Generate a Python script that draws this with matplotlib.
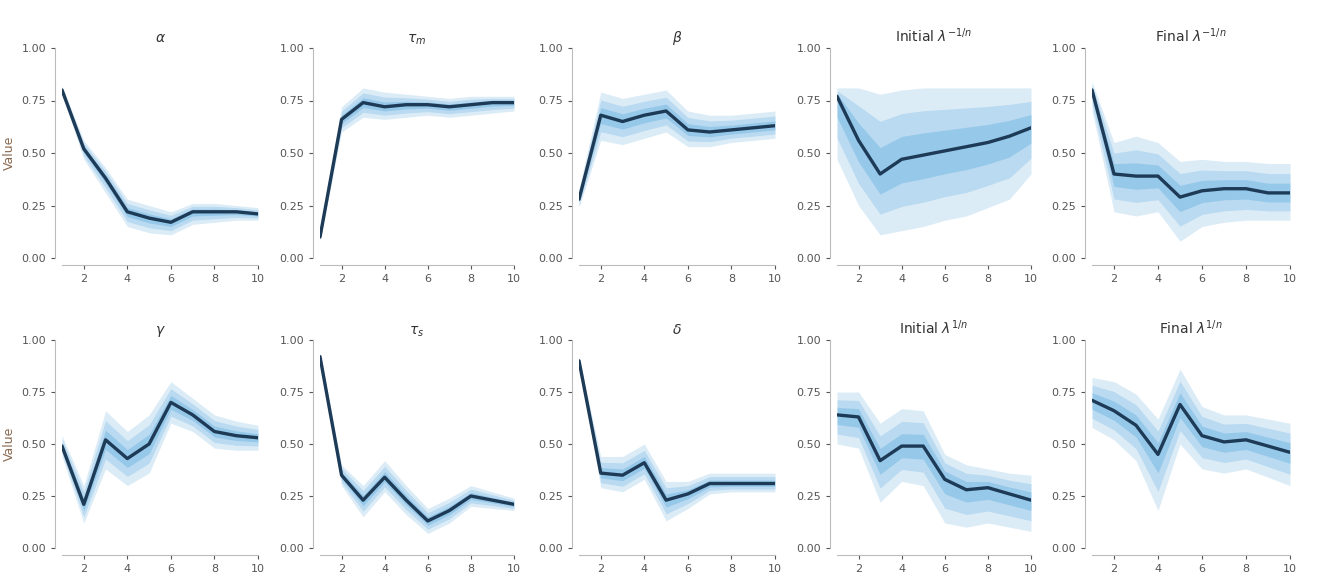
import numpy as np
import matplotlib
matplotlib.use("Agg")
import matplotlib.pyplot as plt
import seaborn as sns
from matplotlib.ticker import MaxNLocator

sns.set_style("ticks")
plt.rcParams['font.family'] = ['DejaVu Sans']

steps = [1, 2, 3, 4, 5, 6, 7, 8, 9, 10]
x_ticks = [2, 4, 6, 8, 10]

titles = ["$\\alpha$", "$\\tau_m$", "$\\beta$", "Initial $\\lambda^{-1/n}$", "Final $\\lambda^{-1/n}$",
          "$\\gamma$", "$\\tau_s$", "$\\delta$", "Initial $\\lambda^{1/n}$", "Final $\\lambda^{1/n}$"]
row_labels = ["Value", "Value"]

# median line per panel
alpha_med = [0.80, 0.52, 0.38, 0.22, 0.19, 0.17, 0.22, 0.22, 0.22, 0.21]
taum_med = [0.10, 0.66, 0.74, 0.72, 0.73, 0.73, 0.72, 0.73, 0.74, 0.74]
beta_med = [0.28, 0.68, 0.65, 0.68, 0.70, 0.61, 0.60, 0.61, 0.62, 0.63]
init_neg_med = [0.77, 0.56, 0.40, 0.47, 0.49, 0.51, 0.53, 0.55, 0.58, 0.62]
final_neg_med = [0.80, 0.40, 0.39, 0.39, 0.29, 0.32, 0.33, 0.33, 0.31, 0.31]
gamma_med = [0.49, 0.21, 0.52, 0.43, 0.50, 0.70, 0.64, 0.56, 0.54, 0.53]
taus_med = [0.92, 0.35, 0.23, 0.34, 0.23, 0.13, 0.18, 0.25, 0.23, 0.21]
delta_med = [0.90, 0.36, 0.35, 0.41, 0.23, 0.26, 0.31, 0.31, 0.31, 0.31]
init_pos_med = [0.64, 0.63, 0.42, 0.49, 0.49, 0.33, 0.28, 0.29, 0.26, 0.23]
final_pos_med = [0.71, 0.66, 0.59, 0.45, 0.69, 0.54, 0.51, 0.52, 0.49, 0.46]

# outer band (low / high) per panel
alpha_lo = [0.78, 0.47, 0.31, 0.15, 0.12, 0.11, 0.16, 0.17, 0.18, 0.18]
alpha_hi = [0.82, 0.56, 0.43, 0.28, 0.25, 0.22, 0.26, 0.26, 0.25, 0.24]
taum_lo = [0.08, 0.60, 0.67, 0.66, 0.67, 0.68, 0.67, 0.68, 0.69, 0.70]
taum_hi = [0.12, 0.72, 0.81, 0.79, 0.78, 0.77, 0.76, 0.77, 0.77, 0.77]
beta_lo = [0.24, 0.56, 0.54, 0.57, 0.60, 0.53, 0.53, 0.55, 0.56, 0.57]
beta_hi = [0.33, 0.79, 0.76, 0.78, 0.80, 0.70, 0.68, 0.68, 0.69, 0.70]
init_neg_lo = [0.47, 0.25, 0.11, 0.13, 0.15, 0.18, 0.20, 0.24, 0.28, 0.40]
init_neg_hi = [0.81, 0.81, 0.78, 0.80, 0.81, 0.81, 0.81, 0.81, 0.81, 0.81]
final_neg_lo = [0.70, 0.22, 0.20, 0.22, 0.08, 0.15, 0.17, 0.18, 0.18, 0.18]
final_neg_hi = [0.84, 0.55, 0.58, 0.55, 0.46, 0.47, 0.46, 0.46, 0.45, 0.45]
gamma_lo = [0.44, 0.12, 0.38, 0.30, 0.36, 0.60, 0.56, 0.48, 0.47, 0.47]
gamma_hi = [0.54, 0.30, 0.66, 0.56, 0.64, 0.80, 0.72, 0.64, 0.61, 0.59]
taus_lo = [0.90, 0.30, 0.15, 0.27, 0.16, 0.07, 0.12, 0.20, 0.19, 0.18]
taus_hi = [0.94, 0.40, 0.30, 0.42, 0.30, 0.19, 0.24, 0.30, 0.27, 0.24]
delta_lo = [0.88, 0.29, 0.27, 0.33, 0.13, 0.19, 0.26, 0.27, 0.27, 0.27]
delta_hi = [0.92, 0.44, 0.44, 0.50, 0.32, 0.32, 0.36, 0.36, 0.36, 0.36]
init_pos_lo = [0.50, 0.48, 0.22, 0.32, 0.30, 0.12, 0.10, 0.12, 0.10, 0.08]
init_pos_hi = [0.75, 0.75, 0.60, 0.67, 0.66, 0.45, 0.40, 0.38, 0.36, 0.35]
final_pos_lo = [0.58, 0.52, 0.42, 0.18, 0.50, 0.38, 0.36, 0.38, 0.34, 0.30]
final_pos_hi = [0.82, 0.80, 0.74, 0.62, 0.86, 0.68, 0.64, 0.64, 0.62, 0.60]

medians = [alpha_med, taum_med, beta_med, init_neg_med, final_neg_med,
           gamma_med, taus_med, delta_med, init_pos_med, final_pos_med]
lows = [alpha_lo, taum_lo, beta_lo, init_neg_lo, final_neg_lo,
        gamma_lo, taus_lo, delta_lo, init_pos_lo, final_pos_lo]
highs = [alpha_hi, taum_hi, beta_hi, init_neg_hi, final_neg_hi,
         gamma_hi, taus_hi, delta_hi, init_pos_hi, final_pos_hi]

W, H = 1318, 581
fig = plt.figure(figsize=(W / 100, H / 100), dpi=100)

col_left = [62, 320, 579, 837, 1092]
col_width = [196, 194, 196, 194, 198]
row_top = [48, 340]
row_bottom = [258, 548]

line_color = "#1d3a57"
band_color = "#3d9ad8"
fracs = [1.0, 0.66, 0.33]
alphas = [0.18, 0.22, 0.28]

for i in range(10):
    r, c = divmod(i, 5)
    rect = [col_left[c] / W, 1 - row_bottom[r] / H, col_width[c] / W, (row_bottom[r] - row_top[r]) / H]
    ax = fig.add_axes(rect)
    x = np.array(steps, dtype=float)
    m = np.array(medians[i])
    lo = np.array(lows[i])
    hi = np.array(highs[i])
    for f, a in zip(fracs, alphas):
        ax.fill_between(x, m - f * (m - lo), m + f * (hi - m), color=band_color, alpha=a, linewidth=0)
    ax.plot(x, m, color=line_color, linewidth=2.4)
    ax.set_xlim(1, 10)
    ax.set_ylim(0, 1)
    ax.set_xticks(x_ticks)
    ax.yaxis.set_major_locator(MaxNLocator(4))
    ax.tick_params(labelsize=8, colors="#555555", length=3)
    ax.set_title(titles[i], fontsize=10, color="#333333", pad=4)
    if c == 0:
        ax.set_ylabel(row_labels[r], fontsize=9, color="#8a6a50")
    sns.despine(ax=ax, offset=5)
    for s in ("left", "bottom"):
        ax.spines[s].set_color("#bbbbbb")

fig.savefig("out.png", dpi=100)
